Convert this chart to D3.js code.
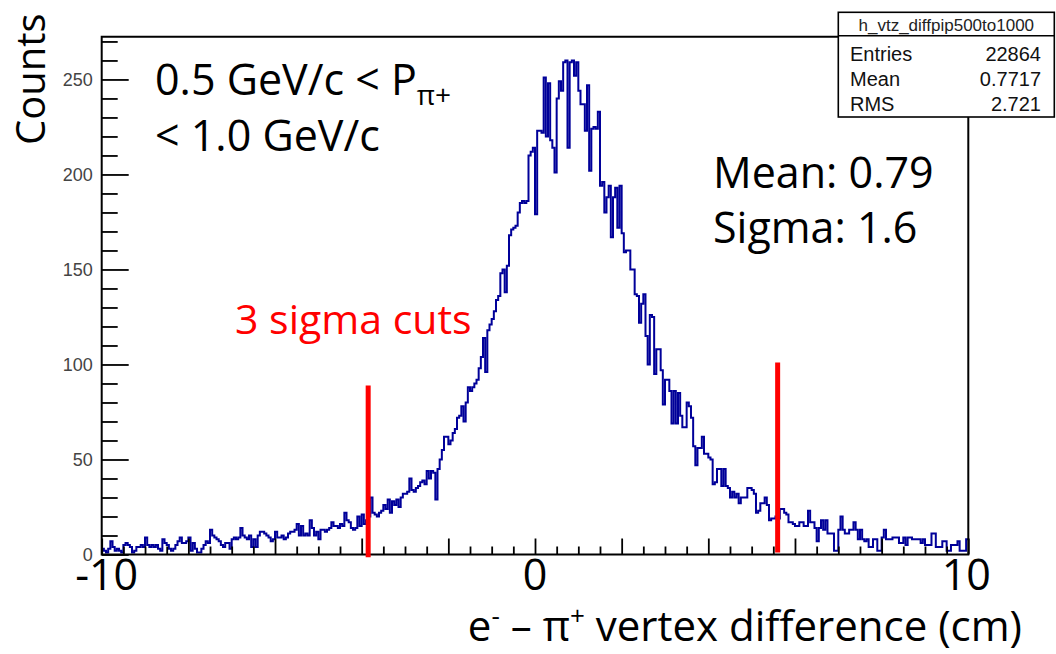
<!DOCTYPE html>
<html><head><meta charset="utf-8">
<script src="https://cdn.jsdelivr.net/npm/d3@7"></script>
<style>
html,body{margin:0;padding:0;background:#fff;}
svg{display:block;}
.big{font-family:"Open Sans",Lato,sans-serif;font-size:43px;fill:#000;}
.root{font-family:"Liberation Sans",Arial,sans-serif;}
</style></head><body>
<svg id="chart" width="1056" height="654"></svg>
<script>
// e- minus pi+ vertex-z difference, 0.5 < P(pi+) < 1.0 GeV/c, 400 bins of 0.05 cm
const histRange = [-10, 10];
const counts = [
  3,2,1,3,7,4,2,3,2,1,5,6,5,4,1,2,4,4,5,4,
  9,5,4,5,4,5,3,2,8,6,5,3,2,3,5,7,9,6,6,7,
  9,2,6,3,1,1,3,5,7,6,13,10,9,8,7,5,4,6,6,3,
  8,9,8,9,14,10,9,8,10,4,8,4,10,12,12,11,10,9,7,8,
  12,9,9,10,8,9,11,12,12,13,16,10,15,10,11,10,18,14,10,12,
  8,13,13,12,13,14,17,15,15,14,16,15,22,18,17,14,13,14,20,15,
  21,16,18,20,30,22,21,20,22,23,26,24,29,22,28,26,29,25,30,32,
  32,33,40,34,33,35,36,38,39,37,44,40,44,43,29,45,50,55,62,62,
  58,60,64,66,72,73,78,70,80,88,86,88,90,92,98,104,114,96,118,121,
  124,128,134,136,148,150,138,152,168,171,172,173,180,185,186,185,186,210,212,214,
  179,223,223,222,251,220,248,218,214,201,240,249,244,259,260,214,259,260,252,259,
  244,237,237,223,247,202,224,225,224,233,194,196,180,188,194,167,188,193,172,194,
  169,159,160,160,150,150,137,136,122,132,137,115,100,126,125,95,108,108,97,79,
  92,92,86,69,86,69,85,73,67,67,80,78,72,57,47,56,56,62,53,53,
  51,50,37,38,45,45,36,45,36,35,30,33,30,32,27,30,30,30,35,35,
  34,32,22,23,27,27,30,26,18,19,19,20,19,24,24,22,21,17,17,16,
  15,15,17,17,15,15,23,17,17,14,7,14,18,13,18,11,11,11,2,2,
  13,20,13,11,11,13,13,17,13,8,13,8,7,8,4,4,8,8,2,2,
  9,13,8,8,8,9,9,9,6,6,9,5,9,9,8,8,8,8,6,8,
  5,5,5,11,11,4,4,4,7,7,2,2,5,5,5,7,2,2,2,8
];
const yMajorTicks = [0, 50, 100, 150, 200, 250];
const xLabelValues = [-10, 0, 10];
const xLabelTexts = ["-10", "0", "10"];
const cutPositions = [-3.85, 5.6];
const cutTops = [89, 101];
const cutBottoms = [-1.5, 1];
const statsTitle = "h_vtz_diffpip500to1000";
const statsNames = ["Entries", "Mean", "RMS"];
const statsValues = ["22864", "0.7717", "2.721"];
const fitLines = ["Mean: 0.79", "Sigma: 1.6"];

const svg = d3.select("#chart");
const x = d3.scaleLinear().domain(histRange).range([101.7, 968.3]);
const y = d3.scaleLinear().domain([0, 272.5]).range([554.5, 36.7]);
const [x0, x1] = x.range();
const [yb, yt] = y.range();

// histogram step line
const binW = (histRange[1] - histRange[0]) / counts.length;
const pts = counts.map((c, j) => [histRange[0] + j * binW, c]);
pts.push([histRange[1], counts[counts.length - 1]]);
svg.append("path")
  .attr("d", d3.line().x(d => x(d[0])).y(d => y(d[1])).curve(d3.curveStepAfter)(pts))
  .attr("fill", "none").attr("stroke", "#000099").attr("stroke-width", 2);

// y axis: minor then major ticks, drawn inward
const yMinor = d3.range(0, 271, 10).filter(v => v % 50 !== 0);
svg.append("g").attr("transform", `translate(${x0},0)`)
  .call(d3.axisLeft(y).tickValues(yMinor).tickSizeInner(-16).tickSizeOuter(0).tickFormat(""));
const gyMajor = svg.append("g").attr("transform", `translate(${x0},0)`)
  .call(d3.axisLeft(y).tickValues(yMajorTicks).tickSizeInner(-27).tickSizeOuter(0).tickPadding(9));
gyMajor.selectAll("text").attr("class", "root").style("font-size", "18px").attr("fill", "#444");

// x axis ticks
const xMajor = d3.range(-10, 10.001, 2);
const xMinor = d3.range(-10, 10.001, 0.5).filter(v => Math.abs(v % 2) > 1e-9);
svg.append("g").attr("transform", `translate(0,${yb})`)
  .call(d3.axisBottom(x).tickValues(xMinor).tickSizeInner(-8).tickSizeOuter(0).tickFormat(""));
svg.append("g").attr("transform", `translate(0,${yb})`)
  .call(d3.axisBottom(x).tickValues(xMajor).tickSizeInner(-16).tickSizeOuter(0).tickFormat(""));
svg.selectAll(".domain").remove();
svg.selectAll(".tick line").attr("stroke", "#000").attr("stroke-width", 1.8);

// frame
const boxL = 838.3, boxR = 1054.3, boxT = 12.3, boxB = 117, boxSep = 35.7;
svg.append("path")
  .attr("d", `M${boxL},${yt}H${x0}V${yb}H${x1}V${boxB}`)
  .attr("fill", "none").attr("stroke", "#000").attr("stroke-width", 2);

// stats box
svg.append("rect").attr("x", boxL).attr("y", boxT).attr("width", boxR - boxL).attr("height", boxB - boxT)
  .attr("fill", "#fff").attr("stroke", "#000").attr("stroke-width", 1.6);
svg.append("line").attr("x1", boxL).attr("x2", boxR).attr("y1", boxSep).attr("y2", boxSep)
  .attr("stroke", "#000").attr("stroke-width", 1.6);
svg.append("text").attr("class", "root").attr("x", (boxL + boxR) / 2).attr("y", 31)
  .attr("text-anchor", "middle").style("font-size", "17px").attr("fill", "#222").text(statsTitle);
const rowY = [61, 86, 111];
statsNames.forEach((n, i) => {
  svg.append("text").attr("class", "root").attr("x", 850).attr("y", rowY[i])
    .style("font-size", "20px").attr("fill", "#111").text(n);
  svg.append("text").attr("class", "root").attr("x", 1041).attr("y", rowY[i])
    .attr("text-anchor", "end").style("font-size", "20px").attr("fill", "#111").text(statsValues[i]);
});

// 3 sigma cut lines
cutPositions.forEach((c, i) => {
  svg.append("line").attr("x1", x(c)).attr("x2", x(c))
    .attr("y1", y(cutTops[i])).attr("y2", y(cutBottoms[i]))
    .attr("stroke", "#ff0000").attr("stroke-width", 5);
});

// x tick labels
const labelDx = [5, 0, -2];
xLabelValues.forEach((v, i) => {
  svg.append("text").attr("class", "big").attr("x", x(v) + labelDx[i]).attr("y", 590)
    .attr("text-anchor", "middle").text(xLabelTexts[i]);
});

// axis titles
svg.append("text").attr("class", "big").style("font-size", "40px")
  .attr("transform", "translate(45,145) rotate(-90)").text("Counts");
const xt = svg.append("text").attr("class", "big").style("font-size", "42px")
  .attr("x", 1022).attr("y", 641).attr("text-anchor", "end");
xt.append("tspan").text("e");
xt.append("tspan").style("font-size", "26px").attr("dy", -16).text("-");
xt.append("tspan").attr("dy", 16).text(" \u2013 \u03c0");
xt.append("tspan").style("font-size", "26px").attr("dy", -16).text("+");
xt.append("tspan").attr("dy", 16).text(" vertex difference (cm)");

// momentum range
const t1 = svg.append("text").attr("class", "big").attr("x", 155).attr("y", 95);
t1.append("tspan").text("0.5 GeV/c < P");
t1.append("tspan").style("font-size", "28px").attr("dy", 10).text("\u03c0+");
svg.append("text").attr("class", "big").attr("x", 155).attr("y", 151).text("< 1.0 GeV/c");

// fit results
fitLines.forEach((s, i) => {
  svg.append("text").attr("class", "big").attr("x", 713).attr("y", 188 + i * 55).text(s);
});

svg.append("text").attr("class", "big").style("font-size", "41px").attr("x", 235).attr("y", 334)
  .style("fill", "#ff0000").text("3 sigma cuts");
</script>
</body></html>
